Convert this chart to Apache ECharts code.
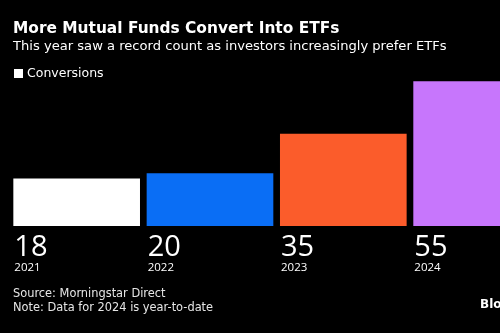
<!DOCTYPE html>
<html>
<head>
<meta charset="utf-8">
<script src="https://cdn.jsdelivr.net/npm/echarts@6/dist/echarts.min.js"></script>
<style>
  html, body { margin: 0; padding: 0; background: #000; }
  #chart { width: 500px; height: 333px; }
</style>
</head>
<body>
<div id="chart"></div>
<script>
// Mutual fund to ETF conversions per year
const years = ['2021', '2022', '2023', '2024'];
const conversions = [18, 20, 35, 55];
const barColors = ['#ffffff', '#0a6ef5', '#fb5c2b', '#c776fc'];

const chart = echarts.init(document.getElementById('chart'), null, { renderer: 'canvas' });

const baseFont = 'DejaVu Sans, Verdana, sans-serif';

chart.setOption({
  backgroundColor: '#000000',
  animation: false,
  title: [
    {
      text: 'More Mutual Funds Convert Into ETFs',
      left: 13, top: 21, padding: 0,
      textStyle: { color: '#ffffff', fontSize: 15.4, fontWeight: 'bold', fontFamily: baseFont }
    },
    {
      text: 'This year saw a record count as investors increasingly prefer ETFs',
      left: 13, top: 40, padding: 0,
      textStyle: { color: '#ffffff', fontSize: 13.1, fontWeight: 'normal', fontFamily: baseFont }
    },
    {
      text: 'Source: Morningstar Direct\nNote: Data for 2024 is year-to-date',
      left: 13, top: 287, padding: 0,
      textStyle: { color: '#e6e6e6', fontSize: 11.4, fontWeight: 'normal', lineHeight: 14, fontFamily: baseFont }
    },
    {
      text: 'Bloomberg',
      left: 480, top: 299, padding: 0,
      textStyle: { color: '#ffffff', fontSize: 12, fontWeight: 'bold', fontFamily: baseFont }
    }
  ],
  legend: {
    left: 14, top: 67, padding: 0,
    icon: 'rect',
    itemWidth: 9, itemHeight: 9, itemGap: 6,
    textStyle: { color: '#ffffff', fontSize: 12.5, fontFamily: baseFont, padding: [0, 0, 0, -1] },
    data: ['Conversions']
  },
  grid: { left: 10, top: 68, width: 533.3, height: 158, outerBoundsMode: 'none', containLabel: false },
  xAxis: {
    type: 'category',
    data: years,
    axisLine: { show: false },
    axisTick: { show: false },
    axisLabel: { show: false }
  },
  yAxis: {
    type: 'value',
    min: 0, max: 60,
    show: false,
    splitLine: { show: false }
  },
  series: [{
    name: 'Conversions',
    type: 'bar',
    barCategoryGap: '5%',
    itemStyle: { color: '#ffffff' },
    data: conversions.map((v, i) => ({ value: v, itemStyle: { color: barColors[i] } })),
    label: {
      show: true,
      position: [1, '100%'],
      align: 'left',
      verticalAlign: 'top',
      offset: [0, 9],
      formatter: p => '{v|' + p.value + '}\n{y|' + p.name + '}',
      rich: {
        v: { color: '#ffffff', fontSize: 29, lineHeight: 25, fontFamily: 'Open Sans, Noto Sans, sans-serif' },
        y: { color: '#ffffff', fontSize: 11.5, lineHeight: 15, fontFamily: 'Open Sans, Noto Sans, sans-serif' }
      }
    }
  }]
});
</script>
</body>
</html>
